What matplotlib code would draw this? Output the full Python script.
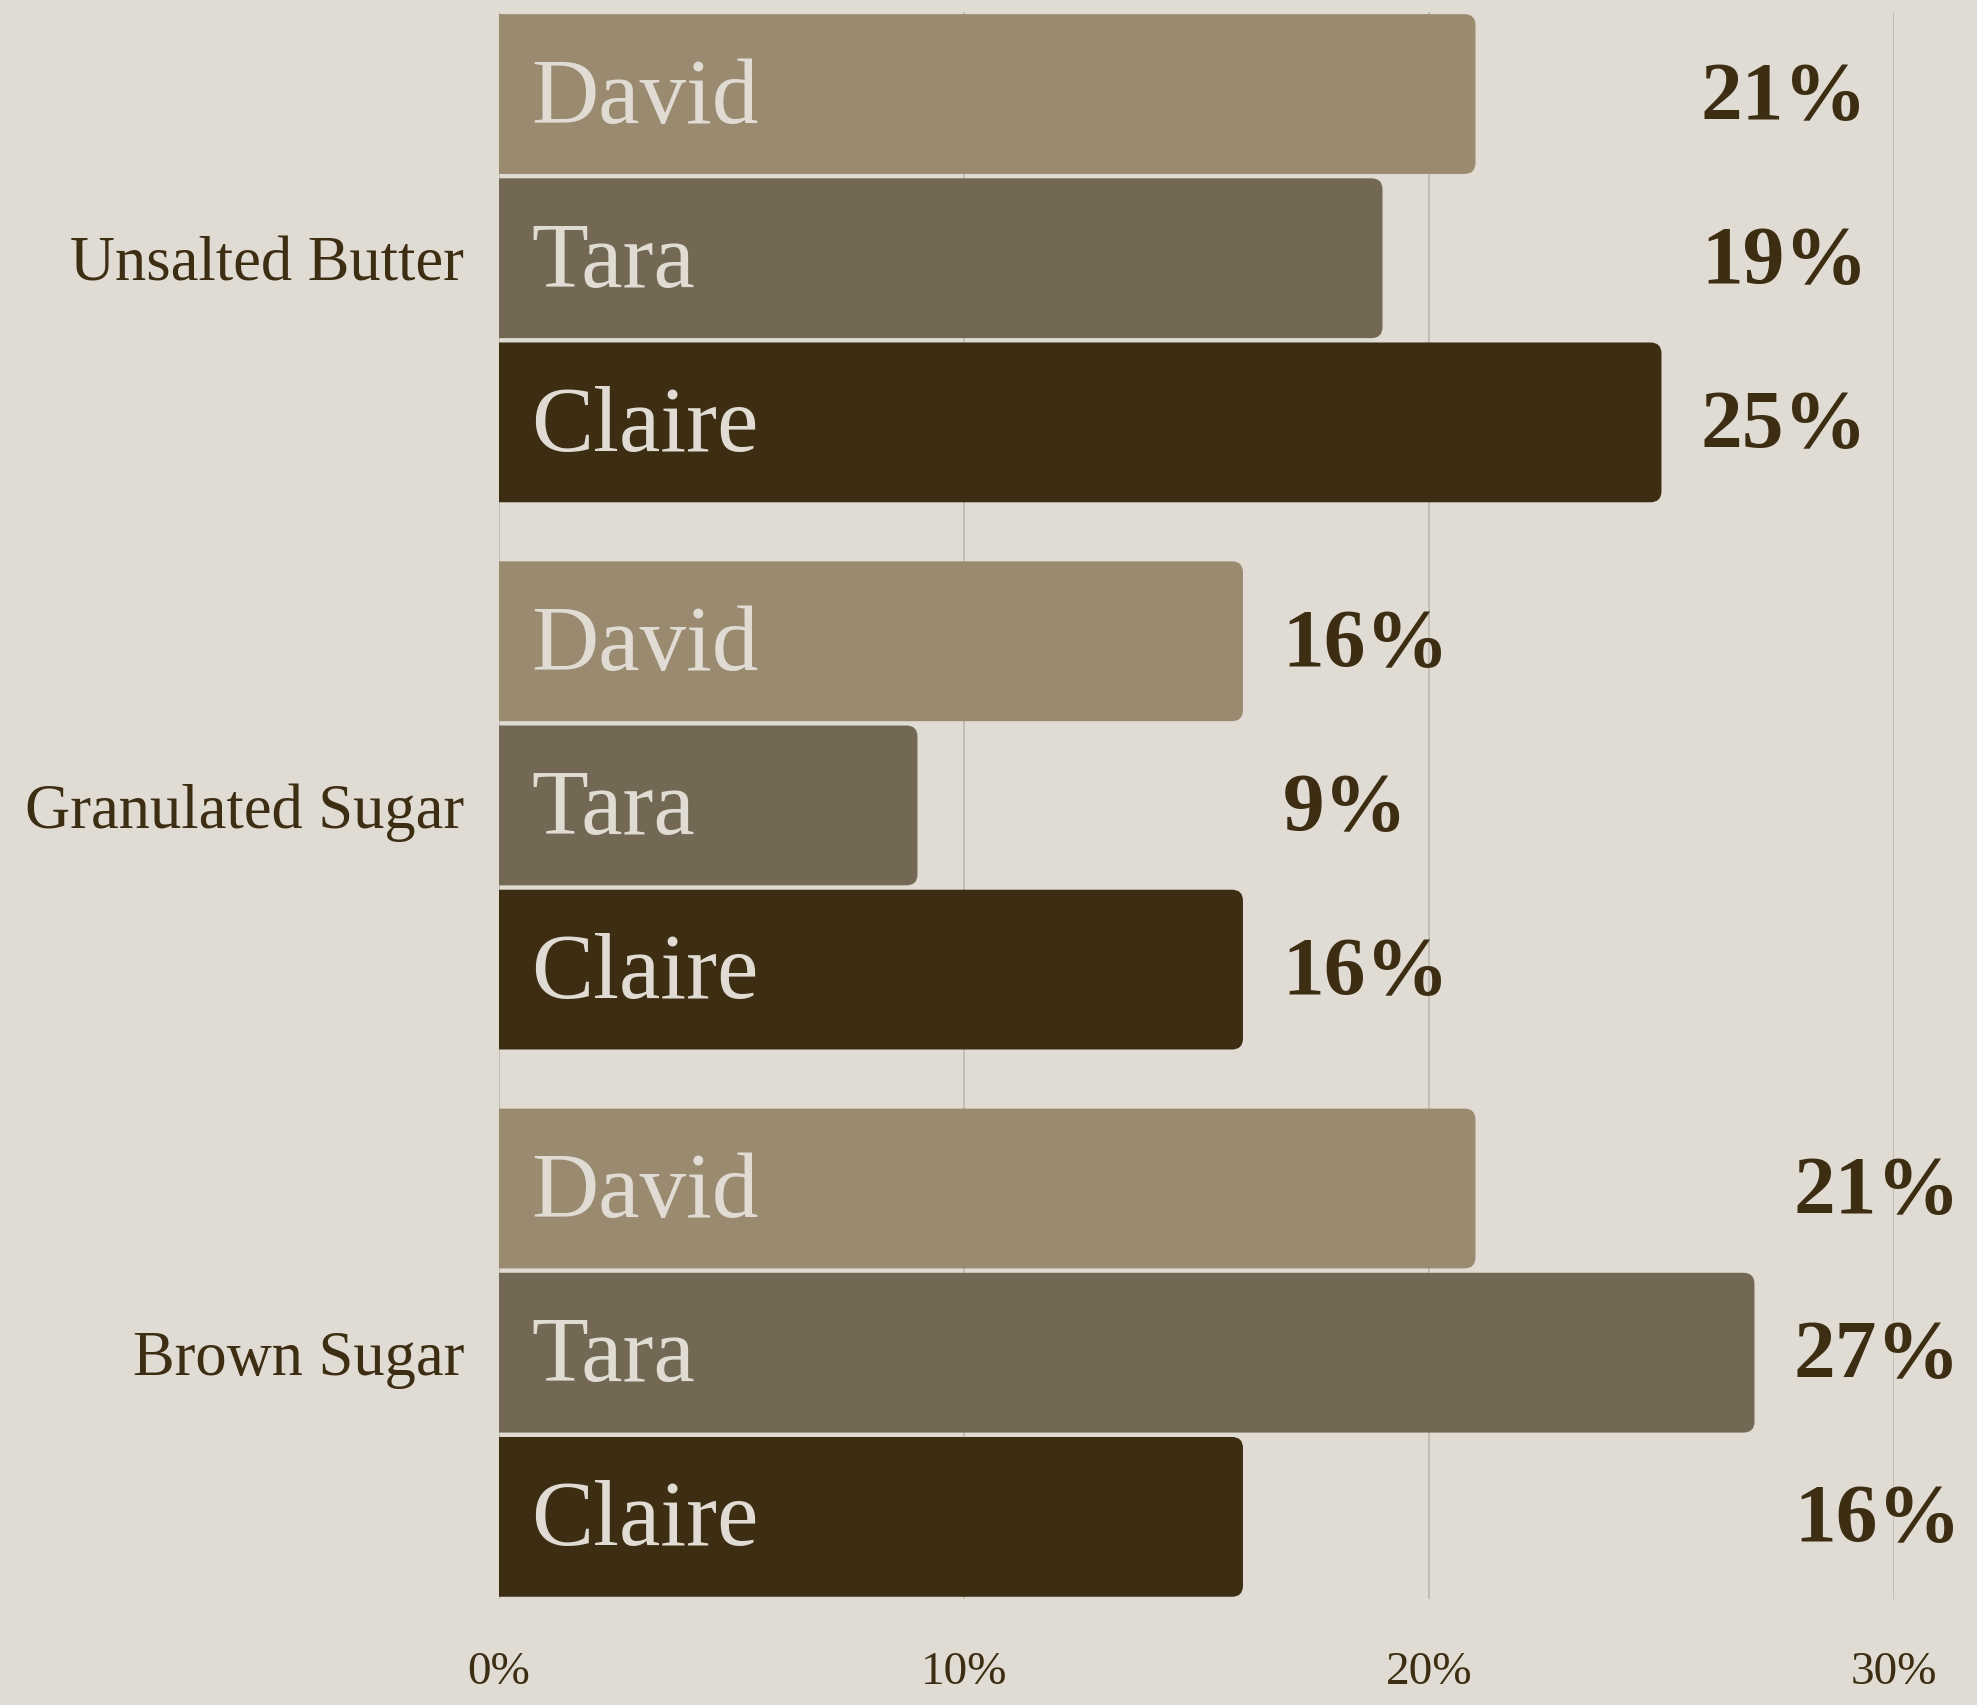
import matplotlib.pyplot as plt
import numpy as np
from matplotlib.patches import FancyBboxPatch

# данные
ingredients = ["Unsalted Butter", "Granulated Sugar", "Brown Sugar"]
people = ["David", "Tara", "Claire"]
david = [21, 16, 21]
tara = [19, 9, 27]
claire = [25, 16, 16]
xticks = [0, 10, 20, 30]
xtick_labels = ["0%", "10%", "20%", "30%"]

bg = "#E0DCD4"
colors = ["#998A70", "#726853", "#3D2E13"]
dark = "#3D2E13"
plt.rcParams['font.family'] = ['Liberation Serif', 'DejaVu Serif']

fig = plt.figure(figsize=(19.77, 17.05), dpi=100, facecolor=bg)
ax = fig.add_axes([0.2524, 0.0622, 0.958 - 0.2524, 0.993 - 0.0622])
ax.set_facecolor(bg)

series = [david, tara, claire]
pos = np.arange(len(ingredients))
step = 0.3
h = 0.292

# радиус скругления в пикселях -> в единицах данных
xlim = (0, 30)
ylim = (2.45, -0.45)
ax_w = 19.77 * 100 * (0.958 - 0.2524)
ax_h = 17.05 * 100 * (0.993 - 0.0622)
px_x = ax_w / (xlim[1] - xlim[0])
px_y = ax_h / abs(ylim[0] - ylim[1])
r = 11 / px_x
asp = px_x / px_y

for i, vals in enumerate(series):
    y = pos - step + i * step
    bars = ax.barh(y, vals, height=h, color=colors[i], zorder=2)
    for b, yy in zip(bars, y):
        b.set_visible(False)
        p = FancyBboxPatch((b.get_x() - r, b.get_y()), b.get_width() + r, b.get_height(),
                           boxstyle=f"round,pad=0,rounding_size={r}", mutation_aspect=asp,
                           fc=colors[i], ec="none", zorder=2)
        ax.add_patch(p)
        ax.annotate(people[i], (0, yy), xytext=(32, -6), textcoords="offset pixels",
                    ha="left", va="center", fontsize=67, color=bg, zorder=3)

# подписи процентов: справа от самого длинного бара в группе
for g in range(len(ingredients)):
    gmax = max(s[g] for s in series)
    for i, vals in enumerate(series):
        ax.annotate(f"{vals[g]}%", (gmax + 0.85, pos[g] - step + i * step), xytext=(0, -5),
                    textcoords="offset pixels", ha="left", va="center",
                    fontsize=60, fontweight="bold", color=dark, zorder=3)

ax.set_xlim(*xlim)
ax.set_ylim(*ylim)
ax.set_xticks(xticks)
ax.set_xticklabels(xtick_labels, fontsize=34, color=dark)
ax.set_yticks(pos)
ax.set_yticklabels(ingredients, fontsize=45, color=dark)
ax.tick_params(axis="x", length=0, pad=38)
ax.tick_params(axis="y", length=0, pad=25)
for s in ax.spines.values():
    s.set_visible(False)
for t in xticks:
    ax.axvline(t, color="#BDB8AE", lw=1.2, zorder=1)

fig.savefig("out.png", dpi=100, facecolor=bg)
